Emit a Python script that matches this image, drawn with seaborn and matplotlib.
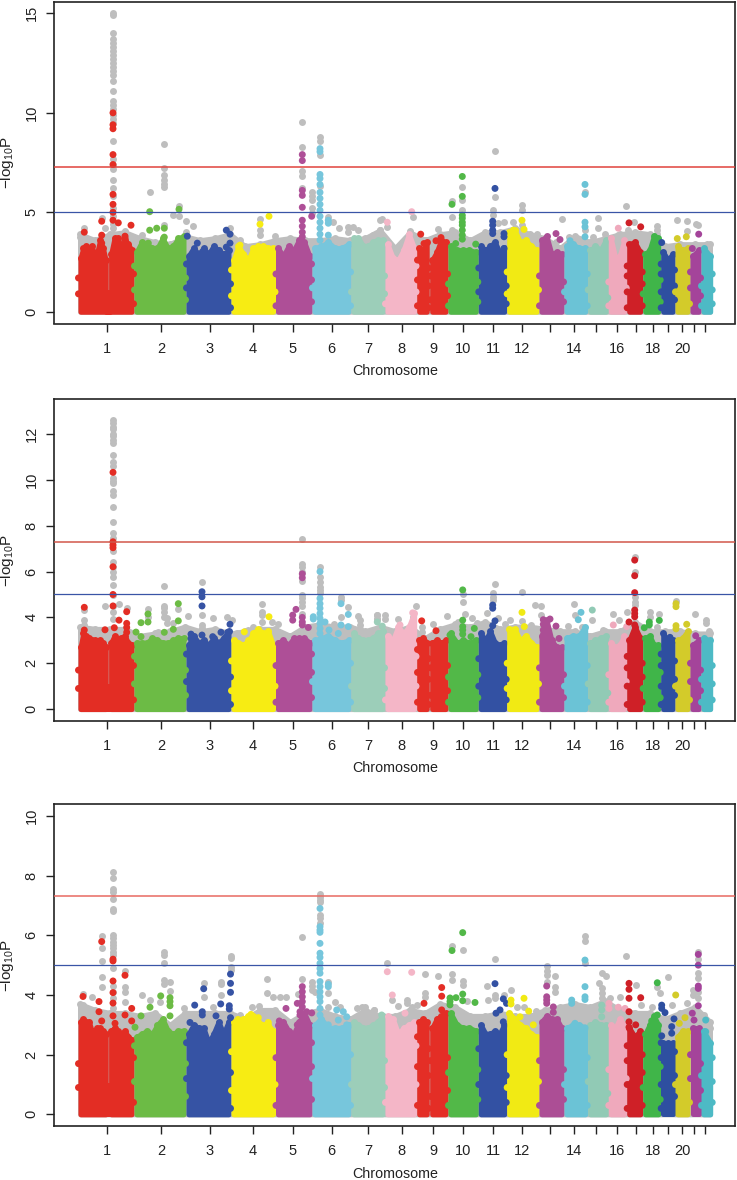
import numpy as np
import pandas as pd
import matplotlib
matplotlib.use("Agg")
import matplotlib.pyplot as plt
import seaborn as sns

sns.set_style("ticks")
plt.rcParams['font.family'] = ['Liberation Sans', 'DejaVu Sans']
plt.rcParams['mathtext.default'] = 'regular'

W, H = 737, 1180
GREY = "#BEBEBE"
INK = "#222222"

# genome axis: tick position of each chromosome, with labels (R drops the ones that do not fit)
chrom_ticks = [107, 161, 209.5, 252.5, 293, 331.7, 368, 401.7, 433, 463.3, 493, 522,
               549.5, 573.7, 596, 617, 635.7, 652.7, 668, 682, 693.7, 704.5]
chrom_labels = ['1', '2', '3', '4', '5', '6', '7', '8', '9', '10', '11', '12',
                '', '14', '', '16', '', '18', '', '20', '', '']

# 24 blocks: chromosomes 1 and 9 are split by their centromere gap
block_left = [78, 108.6, 134, 186, 231, 275.5, 312, 351, 385, 416.7, 429.7, 448, 478.3,
              506.7, 539, 564, 587.7, 608.3, 626.7, 642.7, 660.7, 675, 690, 701]
block_right = [108.2, 134, 186, 231, 275.5, 312, 351, 385, 416.7, 429.2, 448, 478.3, 506.7,
               539, 564, 587.7, 608.3, 626.7, 642.7, 660.7, 675, 690, 701, 712.7]
block_colors = ["#E32D24", "#E32D24", "#6CBB45", "#3653A4", "#F7EC13", "#AE4F97", "#77C6DC",
                "#9CCEB9", "#F4B6C7", "#E42E26", "#E42E26", "#52B848", "#3351A3", "#F1EA14",
                "#AC4E95", "#6BC3D6", "#91CAB5", "#EFA9BC", "#CF2027", "#40B549", "#2E4FA0",
                "#D3CB2A", "#A4449A", "#4DBAC5"]

# top of the dense coloured mass, per block
panel1_tops = [[2.7,3.2,3.3,3.1,3.3,2.8,3.0,3.6,3.2,2.6],[2.9,3.7,3.7,3.2,3.6,3.4,3.1],
 [3.0,3.5,3.4,3.2,3.2,3.7,3.2,3.3,3.7,3.8],[2.8,3.2,2.9,3.2,2.9,3.3,3.1,2.9,3.1],
 [2.6,3.3,2.9,2.6,3.2,3.3,3.3,3.2,3.2],[3.2,2.8,3.3,3.1,3.6,3.5,2.8],[3.2,3.3,3.5,3.2,3.2,3.4],
 [3.7,3.7,3.3,3.3,3.5,3.6,3.6],[3.4,2.7,2.6,3.1,3.9,3.2],[3.2,3.1,3.5],[2.6,3.0,3.6,3.5],
 [3.3,3.1,3.1,3.1,3.0],[3.3,3.1,3.3,3.5,3.0,3.2],[4.0,4.1,3.5,3.6,3.3,3.1],[3.6,3.8,2.9,3.0,2.9],
 [3.3,3.4,3.2,3.2],[3.1,3.3,3.1,3.6],[3.7,2.7,2.8,3.6],[3.4,3.5,3.0],[2.9,3.1,3.8,3.7],
 [3.0,2.6,2.9],[3.3,3.1,3.2],[2.8,3.1],[3.2,2.8]]
panel2_tops = [[2.7,3.3,3.2,3.1,3.0,3.0,2.9,3.0,2.9,2.7],[2.9,3.2,3.0,3.1,3.2,2.9,2.8],
 [2.9,2.9,2.9,3.1,3.0,2.9,2.9,3.0,3.1,3.1],[2.8,3.2,2.9,3.0,2.8,3.1,2.9,3.1,3.4],
 [3.0,2.9,2.8,3.0,3.3,3.5,3.3,3.4,2.8],[2.9,3.0,2.8,3.1,3.1,3.1,2.9],[3.0,3.1,3.2,3.0,2.9,3.0],
 [3.3,3.1,3.0,3.0,3.1,3.3,3.4],[3.2,3.0,3.6,3.3,3.6,4.2],[3.0,3.1,2.9],[2.9,3.0,2.9,3.0],
 [3.3,2.9,3.0,2.9,3.0],[3.3,3.0,3.4,2.9,2.8,2.9],[3.5,3.5,3.0,3.2,2.9,2.7],[3.2,3.9,3.0,2.7,2.7],
 [3.1,3.2,3.2,3.6],[2.9,3.0,3.1,3.2],[2.9,2.7,2.8,3.2],[3.0,3.6,3.1],[3.1,3.2,2.8,2.8],
 [3.3,2.9,3.0],[3.0,3.1,3.4],[2.8,3.0],[3.1,3.0]]
panel3_tops = [[3.1,3.2,3.1,3.1,2.8,2.8,2.9,2.9,2.8,2.7],[2.8,2.9,2.8,2.7,2.8,2.6,2.5],
 [2.6,2.7,2.8,2.7,3.0,3.2,2.8,2.7,2.8,2.8],[2.7,3.0,2.9,2.9,2.4,2.7,3.1,2.7,3.1],
 [3.1,3.0,3.2,3.3,3.3,3.1,3.0,3.0,2.8],[3.0,3.1,2.8,2.7,3.1,3.4,3.0],[3.0,3.2,2.9,2.9,2.9,3.0],
 [3.1,3.0,2.9,2.9,3.0,3.1,3.3],[3.3,3.2,2.7,2.9,3.0,3.1],[3.1,3.2,3.1],[2.9,3.2,3.3,3.4],
 [3.4,3.0,2.9,2.9,2.8],[3.0,2.7,2.7,2.8,2.7,3.0],[3.4,3.2,3.0,2.9,2.7,2.6],[3.1,3.3,3.2,3.2,2.9],
 [2.9,3.0,3.0,2.9],[3.0,3.1,3.0,3.0],[3.0,2.9,3.2,3.0],[2.9,2.6,2.8],[2.7,3.0,3.3,3.0],
 [2.4,2.4,2.4],[2.6,2.8,2.8],[2.9,2.9],[2.8,2.4]]

# top of the grey mass along the genome
gray_x = [80,95,110,125,140,155,170,185,200,215,230,245,260,275,290,305,320,335,350,365,380,395,
          410,425,440,455,470,485,500,515,530,545,560,575,590,605,620,635,650,665,680,695,710]
panel1_gray = [3.9,3.6,3.9,4.0,3.7,3.5,3.4,3.8,3.6,3.7,3.9,3.3,3.4,3.6,3.7,3.6,3.6,3.7,3.6,3.7,4.1,
               3.2,4.0,3.6,3.9,4.0,3.6,4.0,4.0,4.2,3.9,3.7,3.2,3.8,3.5,3.7,3.9,4.0,3.9,3.3,3.4,3.4,3.4]
panel2_gray = [3.6,3.5,3.5,3.5,3.2,3.3,3.4,3.6,3.4,3.5,3.3,3.4,3.5,3.5,3.2,3.6,3.7,3.6,3.6,3.4,3.6,
               3.4,3.6,3.1,3.5,3.7,3.6,3.8,3.5,3.6,3.6,3.5,3.4,3.4,3.2,3.4,3.4,3.8,3.4,3.4,3.4,3.3,3.3]
panel3_gray = [3.7,3.5,3.4,3.4,3.3,3.4,3.0,3.4,3.4,3.4,3.4,3.2,3.5,3.5,3.1,3.4,3.5,3.3,3.2,3.5,3.3,
               3.3,3.5,3.4,3.7,3.6,3.3,3.3,3.4,3.3,3.3,3.5,3.6,3.7,3.6,3.8,3.5,3.4,3.4,3.2,3.4,3.6,3.1]

# dots that stick out of the sides of the masses where two chromosomes meet
edge_lump_pts = [(133.5,[0.4,1.9]),(134.5,[1.1,2.3]),(185.5,[0.6,1.7]),(186.5,[1.2,2.4]),(230.5,[0.2,1.4]),
 (231.5,[0.8,2.1]),(275,[1.0]),(276,[0.3,1.9]),(311.5,[0.5,1.6,2.4]),(312.5,[1.2]),(350.5,[0.3,2.0]),(351.5,[1.0]),
 (384.5,[0.9,1.8]),(385.5,[0.4]),(416,[1.0,2.3]),(417.5,[0.3,1.6,2.6]),(428.5,[0.2,1.3,2.2]),(430.5,[0.6,1.8]),
 (447.5,[0.8,1.9]),(448.5,[0.3,1.4]),(477.8,[0.5,1.5]),(478.8,[1.0,2.2]),(506.2,[0.4,1.3]),(507.2,[0.9,2.0]),
 (538.5,[1.1]),(539.5,[0.3,1.8]),(563.5,[0.5,1.5]),(564.5,[1.0]),(587.2,[0.3,1.9]),(588.2,[1.1]),
 (607.8,[0.7]),(608.8,[0.3,1.5]),(626.2,[1.2]),(627.2,[0.2,1.0,1.8,2.3]),(642.2,[0.3,1.4,2.0]),(643.2,[0.9]),
 (660.2,[0.5,1.6]),(661.2,[0.2,1.0,1.9,2.4]),(674.5,[0.6,1.3,2.1]),(675.5,[1.0]),(689.5,[0.4]),(690.5,[1.2,2.0]),
 (700.5,[0.8,1.7]),(701.5,[0.3,1.3]),(712.2,[0.4,1.1,1.9]),(78.5,[0.9,1.7])]

# isolated SNPs: (genome position, [-log10 P, ...]); grey = all SNPs, hits = coloured by chromosome
panel1_grey_pts = [
 (113,[15.0,14.9,14.0,13.7,13.5,13.3,13.1,12.9,12.7,12.5,12.3,12.1,11.9,11.6,11.1,10.6,10.4,10.2,9.9,9.7,9.5,8.6,7.7,7.4,7.2,6.6,6.2,5.8,5.2,4.8,4.4,4.2,3.9]),
 (84.3,[4.2]),(101.7,[4.7]),(105,[4.2]),(80,[3.77]),(125,[4.05]),
 (164.3,[8.45,7.25,6.85,6.6,6.4,6.25,4.35]),(149.7,[6.0]),(173.3,[4.85]),(179,[5.3,4.8]),(185.7,[4.55,4.0]),(193.3,[4.3]),(141.7,[3.85]),
 (230,[4.2]),(260,[4.65,4.1,3.85]),(275,[3.8]),(240,[3.6]),
 (302.3,[9.55,8.3,7.1,6.8,6.2]),(311.7,[6.0,5.8,5.6,5.2,4.95]),
 (320,[8.8,8.6,7.9,6.3]),(328.3,[4.75]),(333.3,[4.5]),(339.3,[4.2,3.6]),(348.3,[4.27,4.0]),(353,[4.25]),(358.3,[4.1]),(380,[4.6,4.1]),(373.3,[3.85]),
 (382.3,[4.65]),(387.3,[4.27]),(413.3,[4.75]),(410,[4.07]),(426,[3.63]),(438.3,[4.14]),
 (462.3,[6.28,5.6,5.14]),(452,[5.55,4.77,4.1,3.85]),
 (495,[8.07,5.75]),(492.7,[5.1,4.85]),(504,[4.5]),(498.3,[4.47]),
 (522,[5.36,5.14,4.35]),(512.7,[4.5]),(536.7,[3.9]),(561.7,[4.64]),(556,[3.5]),
 (585,[6.0,4.1]),(569,[3.77]),(598,[4.7,4.2]),(605,[3.9]),(593,[3.77]),
 (625.7,[5.3]),(618.3,[3.85]),(628,[4.1]),(634.3,[4.5]),(636.7,[3.9]),(643.3,[3.85]),
 (657.3,[4.3,4.1,3.9]),(677.3,[4.6]),(687.3,[4.57,4.07]),(696,[4.4]),(698.3,[4.35]),(706.7,[3.4])]
panel1_hit_pts = [
 (113,[10.0,9.4,9.2,7.9,7.4,5.9,5.4,5.0,4.6]),(84.3,[4.0]),(101.7,[4.55,3.85,3.45]),(118.3,[4.47]),(131,[4.35]),(125,[3.8,3.7]),
 (149.7,[5.03,4.1]),(179,[5.15]),(156.7,[4.2]),(164.3,[4.2,3.75]),(148.3,[3.45]),
 (187.3,[3.8]),(197.3,[3.45]),(226.3,[4.1,3.25]),(230,[3.9,3.45]),
 (240,[3.35]),(260,[4.4]),(269,[4.8]),
 (302.3,[7.9,7.6,6.1,5.85,5.25,4.6,4.3,4.0,3.77]),(311.7,[4.8]),
 (320,[8.2,8.05,6.9,6.7,6.4,6.0,5.7,5.4,5.1,4.8,4.5,4.2,3.9,3.6]),(328.3,[4.6,4.45,3.85]),
 (387.3,[4.5]),(411.7,[5.03]),(420.7,[3.9]),(424,[3.43]),(436,[3.57]),(441,[3.73]),
 (462.3,[6.8,5.8,4.85,4.7,4.5,4.35,4.1,3.85,3.65]),(452,[5.4]),(455.7,[3.43]),(475.7,[3.4]),
 (495,[6.2]),(492.7,[4.55,4.35,4.1,3.93]),(504,[3.93,3.77,3.18]),
 (522,[4.6]),(524,[4.14]),(513.3,[4.1]),(556,[3.93]),(560,[3.63]),
 (585,[6.4,5.9,4.5,4.27,3.77]),(570,[3.57]),(618.3,[4.2]),(629,[4.47]),(640.7,[4.27]),
 (661.7,[3.48]),(677.3,[3.68]),(686.3,[3.77]),(698.7,[3.9]),(692.3,[3.18])]

panel2_grey_pts = [
 (113,[12.6,12.47,12.3,12.2,12.0,11.9,11.75,11.6,11.1,10.8,10.6,10.1,9.95,9.85,9.5,9.35,8.83,8.17,7.67,7.48,6.9,6.43,6.2,6.0,5.77,5.4,4.97,4.5,4.25,3.95]),
 (84.3,[4.32,3.88,3.67]),(105,[4.5]),(119,[4.6]),(126.7,[4.4]),
 (148,[4.35,4.0]),(164.3,[5.36,4.5,4.4,4.25,4.0]),(167.3,[3.96,3.77]),(173.3,[3.74]),(178.3,[4.36]),(188.3,[4.07]),(158.3,[3.37]),
 (202,[5.53,4.1,3.67,3.52]),(212.7,[3.96]),(226.7,[4.0]),(232.3,[3.88]),
 (261.7,[4.6,4.25,4.1,3.8]),(278.3,[3.72]),(271.7,[3.8]),(253.3,[3.6]),(248.3,[3.45]),(236.7,[3.3]),
 (302.3,[7.43,6.35,6.2,6.0,5.6,4.97,4.83,4.68,4.5,4.17]),
 (320,[6.2,5.77,5.55,5.33,5.2,5.05]),(341,[4.9,4.75,4.03]),(348.3,[4.44]),(334.3,[3.7]),(358.3,[4.07]),(360,[3.88,3.67,3.5]),(376.7,[4.1,3.95]),
 (377.3,[4.1,3.93]),(385,[4.1,3.93]),(398.3,[3.93]),(415.7,[4.5]),(412.7,[4.0]),(421.7,[3.6,3.35]),(433.3,[3.7]),(446.7,[4.07]),
 (462.7,[5.0,4.68]),(465.3,[4.13]),(471.7,[3.96]),(476.7,[3.77]),(458.3,[3.8]),
 (495,[5.44]),(492.7,[5.05,4.9,4.75]),(487.3,[4.2]),(498.3,[3.96]),(505,[3.7]),(510,[3.88]),
 (522,[5.12,3.85]),(531,[3.67]),(535,[4.54]),(541,[4.5,4.1]),
 (574.3,[4.6]),(575,[4.1]),(568.3,[3.64]),(581.7,[3.6]),(592.3,[3.88]),(603.3,[3.45]),
 (613.3,[4.15]),(619.3,[3.9]),(626.7,[4.25]),(634.7,[6.65,5.96,4.9,4.68,4.54]),
 (650,[4.25,4.03]),(659.3,[4.13]),(656.7,[3.6]),(676,[4.7]),(695,[4.17]),(706,[3.9,3.74]),(709,[3.4])]
panel2_hit_pts = [
 (113,[10.33,7.3,7.16,7.04,6.21,5.0,4.5]),(114.3,[3.55]),(84.3,[4.44,3.45]),(105,[3.46]),(119,[3.88]),(126.7,[4.25,3.74,3.56,3.35]),
 (136,[3.36]),(141,[3.77,3.16]),(148,[4.15,3.8]),(164.3,[3.35]),(173.3,[3.48]),(178.3,[4.6,3.85,3.05]),
 (202,[5.12,4.9,4.5,3.23]),(191,[3.27,3.08]),(212.7,[3.16]),(221,[3.35]),(227.7,[3.35]),(230,[3.7]),
 (244.3,[3.37]),(253.3,[3.08]),(269,[4.03]),
 (296,[4.35]),(292.7,[4.1,3.88]),(302.3,[5.9,5.73,4.0,3.8,3.67]),(308.3,[3.56]),
 (320,[4.83,4.6,4.4,4.17,3.96,3.74,3.52,3.3,6.0]),(313.3,[4.03,3.93]),(325,[3.8]),(329,[3.45]),(341,[4.6,3.67]),(348.3,[4.13,3.6]),(338.3,[3.3]),
 (382.3,[3.62]),(377.3,[3.8]),(400,[3.67]),(412.7,[4.2,3.5]),(421.7,[3.85]),(436,[3.42]),
 (462.7,[5.2,3.88,3.6,3.45,3.27]),(474.3,[3.52]),(471,[3.16]),(450,[3.23]),
 (492.7,[4.54,4.4,3.64]),(495,[3.85]),(522,[4.22]),(524.3,[3.6]),
 (550,[3.93]),(543.3,[3.9,3.7,3.45]),(556,[3.62]),(559,[3.08]),(581,[4.22]),(578.3,[3.9]),
 (592.3,[4.32]),(613.3,[3.67]),(626.7,[3.6]),(634.7,[6.5,5.82,5.08,4.32,4.17,4.03,3.67]),(629,[3.8]),
 (644.3,[3.55]),(649.3,[3.8,3.67]),(659.3,[3.87]),(670,[3.13]),(676,[4.6,4.47,3.64,3.5]),(686.7,[3.7]),(695.7,[3.2])]

panel3_grey_pts = [
 (113,[8.13,7.93,7.54,7.46,7.22,6.88,6.8,6.0,5.9,5.79,5.68,5.56,5.45,5.34,4.89,4.3,4.1,3.9,3.55]),
 (101.7,[5.98,5.56,5.14,4.6,4.26]),(83,[4.03,3.66]),(92.3,[3.93]),(125,[4.82,4.28,4.1,3.78]),
 (164.3,[5.45,5.34,5.06,4.5,4.37]),(170,[4.45,4.15]),(141.7,[4.0]),(150,[3.83]),(160,[3.78]),
 (203.7,[4.39,3.94]),(220.7,[4.45,4.37,4.0]),(231,[5.32,5.23,4.95,4.84]),(213.3,[3.6]),(184,[3.55]),
 (266.7,[4.52,4.06]),(251.7,[3.6]),(259.3,[3.63]),(273.3,[3.94]),(280,[3.94]),(286,[3.92]),(240,[3.33]),
 (302.3,[5.94,4.52]),(298.3,[4.03]),(311.7,[4.42,4.3,4.17]),(315,[4.1]),
 (320,[7.4,7.3,7.18,7.1,6.68,6.57,6.4]),(328.3,[4.42,4.06,3.6]),(335,[3.78]),(340,[3.6]),(356.7,[3.55]),(365,[3.6]),(374,[3.5]),(361.7,[3.6]),
 (374.3,[3.5]),(387.3,[5.08]),(391.7,[3.83]),(398.3,[3.63]),(406.7,[3.83,3.72]),(411.7,[3.6]),(416.7,[3.66]),(425,[4.7,4.06,3.94]),
 (438.3,[4.65]),(451.7,[5.64,4.69,4.5]),(462.7,[5.5,4.48,4.34]),(466.7,[3.8]),
 (495,[5.2,4.0,3.89]),(487.3,[4.31]),(488.3,[3.83]),(504,[4.0]),(510.7,[4.17]),(516.7,[3.6]),(524,[3.6]),(535.7,[3.47]),
 (546.7,[4.97,4.82,4.67,4.45]),(555,[4.65,4.28,4.11]),(570,[3.55,3.4]),(585,[5.98,5.82,5.06]),
 (599.3,[4.41]),(601.7,[4.73,4.22,4.06,3.89]),(606,[4.64]),(593,[3.55]),(610,[3.89]),(620,[3.92]),
 (625.7,[5.3]),(635.7,[4.32]),(640.7,[3.66]),(657.3,[4.28]),(660,[4.08]),(651.7,[3.6]),(668.3,[4.6]),(671.7,[3.65]),(686.7,[3.72]),
 (698.3,[5.45,5.2,4.73,4.58,4.09,3.89]),(692.7,[4.17,4.0]),(704.3,[3.33]),(710,[2.9])]
panel3_hit_pts = [
 (113,[5.2,5.14,4.47,4.08,3.73,3.3]),(101.7,[5.79,3.13]),(83,[3.95]),(99,[3.78,3.44]),(125,[4.66,3.33]),(131.7,[3.55,3.13]),(115,[3.05]),
 (160.7,[3.97]),(170,[3.91,3.78,3.64,3.3]),(150,[3.59]),(141,[3.3]),(135,[2.92]),
 (194.7,[3.66]),(202.3,[3.44,3.33]),(203.7,[4.21]),(220.7,[3.7]),(216,[3.3]),(229.3,[3.53,3.64]),(230.5,[4.7,4.39,4.09,3.24]),(190,[3.08]),
 (251,[3.35]),(258.3,[3.24]),(238,[3.18]),(268.3,[3.08]),(245,[2.88]),
 (286,[3.55]),(279.3,[3.13]),(302.3,[4.28,4.11,3.94,3.78,3.6]),(297.3,[3.72,3.0]),(300,[3.44,3.33]),(306.7,[3.44]),(311.7,[3.4]),
 (320,[6.9,6.29,6.18,6.1,5.73,5.4,5.26,5.06,4.89,4.73,4.45,4.28,4.11,3.94,3.78,3.55,3.33,3.1]),
 (328.3,[4.36,4.28,3.0]),(336.7,[3.5]),(343.3,[3.44]),(338.3,[3.16]),(346.7,[3.27,3.0]),
 (381.7,[3.33]),(387.3,[4.78]),(392.3,[4.0]),(405,[3.39]),(411.7,[4.76]),(424,[3.72]),
 (441.7,[4.25,3.96,3.5]),(452,[5.49]),(450,[3.9,3.78,3.67]),(456,[3.91]),(462.7,[6.09,4.03,3.81]),(475,[3.75]),
 (495,[4.38]),(503.3,[3.87,3.1]),(506.5,[3.72]),(496,[3.39]),(500,[3.5]),
 (511,[3.83,3.7]),(524,[3.89]),(528.7,[3.46]),(520,[3.27]),(533.3,[3.0]),
 (546.7,[4.3,3.94,3.83,3.72]),(553.3,[3.6,3.42]),(571.7,[3.83,3.72]),(585,[5.17,4.28,3.94,3.85,2.9]),(575,[3.05]),
 (601.7,[3.66,3.5,3.27]),(609,[3.72,3.55]),(618.3,[3.59]),(625,[3.55]),
 (629,[4.39,4.19,3.89,3.44,3.1,2.92]),(640.7,[3.91]),(635.7,[3.0]),(657.3,[4.41,3.33]),(651.7,[3.13]),
 (661.7,[3.66,3.55,2.63]),(665,[3.41]),(674,[3.2]),(671.7,[2.94,2.72]),(675.7,[4.0]),(685,[3.24]),(679.3,[3.05]),
 (698.3,[5.36,5.0,4.3,4.22,3.64]),(692.3,[3.39]),(694,[3.16]),(705.7,[3.16,2.77])]

# axes boxes (pixels) and y scales of the three panels
panels = [
    dict(box=(54, 2, 735, 323.5), ylim=(-0.59, 15.57), yticks=[0, 5, 10, 15], tops=panel1_tops,
         gray=panel1_gray, grey_pts=panel1_grey_pts, hit_pts=panel1_hit_pts, red="#E0423C", blue="#3A55A6"),
    dict(box=(54, 399, 735, 721), ylim=(-0.52, 13.53), yticks=[0, 2, 4, 6, 8, 10, 12], tops=panel2_tops,
         gray=panel2_gray, grey_pts=panel2_grey_pts, hit_pts=panel2_hit_pts, red="#D2574A", blue="#3A55A6"),
    dict(box=(54, 804.3, 735, 1126), ylim=(-0.39, 10.39), yticks=[0, 2, 4, 6, 8, 10], tops=panel3_tops,
         gray=panel3_gray, grey_pts=panel3_grey_pts, hit_pts=panel3_hit_pts, red="#E86A62", blue="#3A55A6"),
]

DOT = 25          # marker area: nearly 7 px across
STROKE_PT = 3.6   # 5 px round outline on the masses
INSET = 2.5

def flatten(columns):
    xs, ys = [], []
    for x, vals in columns:
        xs += [x] * len(vals)
        ys += vals
    return pd.DataFrame({"x": xs, "y": ys})

def block_of(x):
    for i, (a, b) in enumerate(zip(block_left, block_right)):
        if a <= x <= b:
            return i
    return int(np.argmin(np.abs(np.array(block_left) - x)))

palette = dict(enumerate(block_colors))
fig = plt.figure(figsize=(W / 100, H / 100), dpi=100)
for p in panels:
    l, t, r, b = p["box"]
    ax = fig.add_axes([l / W, 1 - b / H, (r - l) / W, (b - t) / H])

    # grey layer
    ax.fill_between(gray_x, 0, p["gray"], color=GREY, lw=STROKE_PT, joinstyle="round", zorder=1)
    sns.scatterplot(x=gray_x, y=p["gray"], color=GREY, s=DOT, linewidth=0, ax=ax, zorder=1.1, legend=False)
    pts = flatten(p["grey_pts"])
    sns.scatterplot(data=pts, x="x", y="y", color=GREY, s=DOT, linewidth=0, ax=ax, zorder=1.2, legend=False)

    # coloured masses, chromosome after chromosome
    for i, tops in enumerate(p["tops"]):
        xs = np.linspace(block_left[i] + INSET, block_right[i] - INSET, len(tops))
        ax.fill_between(xs, 0, tops, color=block_colors[i], lw=STROKE_PT, joinstyle="round", zorder=2 + i * 0.01)
        sns.scatterplot(x=xs, y=tops, color=block_colors[i], s=DOT, linewidth=0, ax=ax, zorder=2 + i * 0.01, legend=False)
    # the small bridge under the chromosome 1 centromere
    ax.fill_between([106, 110], 0, [1.0, 1.0], color=block_colors[0], lw=STROKE_PT, joinstyle="round", zorder=2)

    hits = flatten(p["hit_pts"] + edge_lump_pts)
    hits["block"] = [block_of(x) for x in hits["x"]]
    sns.scatterplot(data=hits, x="x", y="y", hue="block", palette=palette,
                    s=DOT, linewidth=0, ax=ax, zorder=3, legend=False)

    ax.axhline(-np.log10(5e-8), color=p["red"], lw=1.1, zorder=4)
    ax.axhline(5, color=p["blue"], lw=0.9, zorder=4)

    ax.set_xlim(l, r)
    ax.set_ylim(*p["ylim"])
    ax.set_xticks(chrom_ticks)
    ax.set_xticklabels(chrom_labels, fontsize=10.5, color=INK)
    ax.set_yticks(p["yticks"])
    ax.set_yticklabels([str(v) for v in p["yticks"]], rotation=90, va="center", fontsize=10.5, color=INK)
    ax.tick_params(axis="both", length=6, width=1.0, color=INK, direction="out")
    ax.tick_params(axis="x", pad=7)
    ax.tick_params(axis="y", pad=5)
    for s in ax.spines.values():
        s.set_visible(True)
        s.set_linewidth(1.2)
        s.set_color(INK)
    ax.set_xlabel("Chromosome", fontsize=10.3, color=INK)
    ax.xaxis.set_label_coords((395 - l) / (r - l), -47.5 / (b - t), transform=ax.transAxes)
    ax.xaxis.label.set_verticalalignment("center")
    ax.set_ylabel("\u2212log$_{10}$P", fontsize=11, color=INK)
    ax.yaxis.set_label_coords((7.5 - l) / (r - l), 0.5, transform=ax.transAxes)
    ax.yaxis.label.set_verticalalignment("center")

fig.savefig("out.png", dpi=100)
